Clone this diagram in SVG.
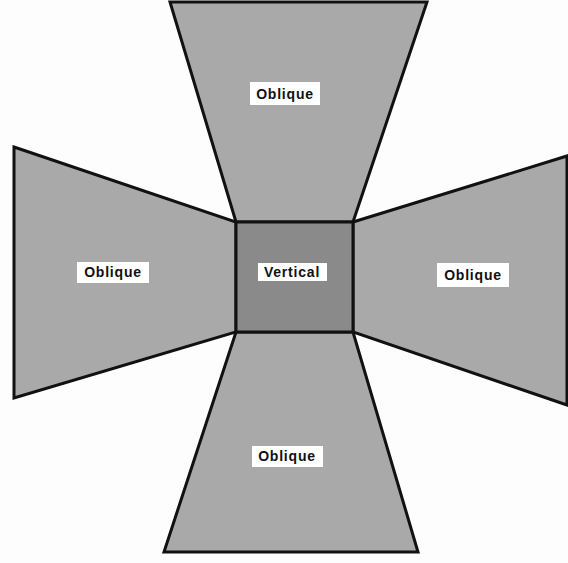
<svg xmlns="http://www.w3.org/2000/svg" width="568" height="563" viewBox="0 0 568 563">
<style>
.wing{fill:#a9a9a9;stroke:#111;stroke-width:3;stroke-linejoin:miter}
.core{fill:#8a8a8a;stroke:#111;stroke-width:3}
.lbl{fill:#fff}
.t{font-family:"Liberation Sans",Arial,sans-serif;font-size:14px;font-weight:bold;fill:#111;text-anchor:middle;dominant-baseline:central;letter-spacing:0.8px}
</style>
<rect width="568" height="563" fill="#fdfdfd"/>
<g id="top">
<polygon class="wing" points="170,2 427,2 353,222 236,222"/>
<rect class="lbl" x="250" y="82" width="70" height="23"/>
<text class="t" x="285" y="94">Oblique</text>
</g>
<g id="left">
<polygon class="wing" points="14,147 236,222 236,332 14,398"/>
<rect class="lbl" x="77" y="262" width="72" height="21"/>
<text class="t" x="113" y="272">Oblique</text>
</g>
<g id="right">
<polygon class="wing" points="353,222 567,156 567,405 353,332"/>
<rect class="lbl" x="437" y="263" width="72" height="24"/>
<text class="t" x="473" y="275">Oblique</text>
</g>
<g id="bottom">
<polygon class="wing" points="236,332 353,332 418,552 164,552"/>
<rect class="lbl" x="252" y="446" width="71" height="21"/>
<text class="t" x="287" y="456">Oblique</text>
</g>
<g id="center">
<rect class="core" x="236" y="222" width="117" height="110"/>
<rect class="lbl" x="258" y="263" width="69" height="18"/>
<text class="t" x="292" y="272">Vertical</text>
</g>
<g id="connectors"></g>
</svg>
